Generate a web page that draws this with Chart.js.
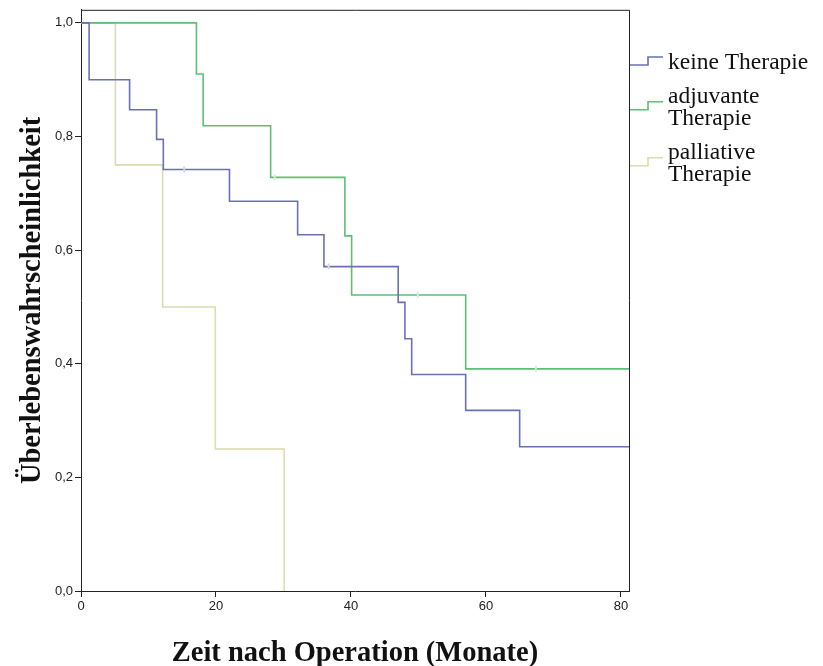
<!DOCTYPE html>
<html>
<head>
<meta charset="utf-8">
<script src="https://cdn.jsdelivr.net/npm/chart.js@4/dist/chart.umd.min.js"></script>
<style>
  html, body { margin: 0; padding: 0; background: #fff; }
  #wrap { width: 823px; height: 666px; }
</style>
</head>
<body>
<div id="wrap"><canvas id="kmChart" width="823" height="666"></canvas></div>
<script>
// Kaplan-Meier curves: event times (months) and survival after each step
var keineZeit = [0, 1.2, 7.2, 11.2, 12.2, 22.0, 32.1, 36.0, 47.0, 48.0, 49.0, 57.0, 65.0, 81.2];
var keineRate = [1.0, 0.9, 0.847, 0.795, 0.742, 0.686, 0.627, 0.571, 0.508, 0.444, 0.381, 0.318, 0.254, 0.254];
var adjuvZeit = [0, 17.1, 18.1, 28.1, 39.1, 40.1, 57.0, 81.2];
var adjuvRate = [1.0, 0.910, 0.819, 0.728, 0.625, 0.521, 0.391, 0.391];
var pallZeit = [0, 5.1, 12.1, 19.9, 30.1];
var pallRate = [1.0, 0.75, 0.5, 0.25, 0.0];

// censored observations (time, survival at that time)
var keineZensiertZeit = [15.3, 36.7];
var keineZensiertRate = [0.742, 0.571];
var adjuvZensiertZeit = [28.7, 49.9, 67.4];
var adjuvZensiertRate = [0.728, 0.521, 0.391];

var legendLabels = [["keine Therapie"], ["adjuvante", "Therapie"], ["palliative", "Therapie"]];
var yTicks = [0, 0.2, 0.4, 0.6, 0.8, 1.0];
var xTicks = [0, 20, 40, 60, 80];

var colBlue = "#6a70b6";
var colGreen = "#5fbe74";
var colBeige = "#dcdcb2";

function toPoints(xs, ys) {
  return xs.map(function (x, i) { return { x: x, y: ys[i] }; });
}

function kmLine(label, xs, ys, color) {
  return {
    label: label,
    data: toPoints(xs, ys),
    borderColor: color,
    borderWidth: 1.6,
    stepped: "before",
    pointRadius: 0,
    fill: false,
    order: 1,
  };
}

function censorMarks(xs, ys, color) {
  return {
    type: "scatter",
    data: toPoints(xs, ys),
    pointStyle: "line",
    rotation: 90,
    pointRadius: 3,
    borderColor: color,
    borderWidth: 2,
    order: 0,
  };
}

// plot frame on top/right side
var framePlugin = {
  id: "frame",
  afterDraw: function (chart) {
    var a = chart.chartArea, ctx = chart.ctx;
    ctx.save();
    ctx.strokeStyle = "#222";
    ctx.lineWidth = 1;
    ctx.beginPath();
    ctx.moveTo(a.left, a.top + 0.5);
    ctx.lineTo(a.right + 0.5, a.top + 0.5);
    ctx.lineTo(a.right + 0.5, a.bottom);
    ctx.stroke();
    ctx.restore();
  },
};

// legend with step glyphs and wrapped labels
var stepLegend = {
  id: "stepLegend",
  afterDraw: function (chart) {
    var ctx = chart.ctx;
    var colors = [colBlue, colGreen, colBeige];
    var x0 = chart.chartArea.right + 1;
    var lineH = 22.5;
    var baseline = 69;
    ctx.save();
    ctx.font = "23.5px 'Liberation Serif', 'Times New Roman', serif";
    ctx.fillStyle = "#111";
    ctx.textBaseline = "alphabetic";
    legendLabels.forEach(function (lines, i) {
      var first = baseline;
      var last = baseline + lineH * (lines.length - 1);
      var mid = (first + last) / 2 - 8;
      ctx.strokeStyle = colors[i];
      ctx.lineWidth = 1.6;
      ctx.beginPath();
      ctx.moveTo(x0, mid + 4);
      ctx.lineTo(x0 + 18, mid + 4);
      ctx.lineTo(x0 + 18, mid - 4);
      ctx.lineTo(x0 + 33, mid - 4);
      ctx.stroke();
      lines.forEach(function (t, j) {
        ctx.fillText(t, x0 + 38, baseline + j * lineH);
      });
      baseline = last + 33.5;
    });
    ctx.restore();
  },
};

var tickFont = { family: "'Liberation Sans', Arial, sans-serif", size: 13 };
var titleFont = { family: "'Liberation Serif', 'Times New Roman', serif", size: 28.5, weight: "bold", lineHeight: 0.85 };

new Chart(document.getElementById("kmChart").getContext("2d"), {
  type: "line",
  data: {
    datasets: [
      censorMarks(keineZensiertZeit, keineZensiertRate, "#d4d6ee"),
      censorMarks(adjuvZensiertZeit, adjuvZensiertRate, "#d2eed8"),
      kmLine("keine Therapie", keineZeit, keineRate, colBlue),
      kmLine("adjuvante Therapie", adjuvZeit, adjuvRate, colGreen),
      kmLine("palliative Therapie", pallZeit, pallRate, colBeige),
    ],
  },
  options: {
    responsive: false,
    animation: false,
    devicePixelRatio: 1,
    layout: { padding: { top: 8, right: 194, left: 0, bottom: 0 } },
    plugins: {
      legend: { display: false },
      tooltip: { enabled: false },
    },
    scales: {
      x: {
        type: "linear",
        min: 0,
        max: 81.2,
        afterFit: function (s) { s.height = 75; },
        afterBuildTicks: function (s) {
          s.ticks = xTicks.map(function (v) { return { value: v }; });
        },
        grid: { display: true, drawOnChartArea: false, tickLength: 6, color: "#222" },
        border: { display: true, color: "#222", width: 1 },
        ticks: { color: "#222", font: tickFont, padding: 2, maxRotation: 0 },
        title: {
          display: true,
          text: "Zeit nach Operation (Monate)",
          color: "#111",
          font: titleFont,
          padding: { top: 0, bottom: 0 },
        },
      },
      y: {
        type: "linear",
        min: 0,
        max: 1.023,
        afterFit: function (s) { s.width = 81; },
        afterBuildTicks: function (s) {
          s.ticks = yTicks.map(function (v) { return { value: v }; });
        },
        grid: { display: true, drawOnChartArea: false, tickLength: 6, color: "#222" },
        border: { display: true, color: "#222", width: 1 },
        ticks: {
          color: "#222",
          font: tickFont,
          padding: 2,
          callback: function (v) { return v.toFixed(1).replace(".", ","); },
        },
        title: {
          display: true,
          text: "Überlebenswahrscheinlichkeit",
          color: "#111",
          font: titleFont,
          padding: { top: 21, bottom: 0 },
        },
      },
    },
  },
  plugins: [framePlugin, stepLegend],
});
</script>
</body>
</html>
